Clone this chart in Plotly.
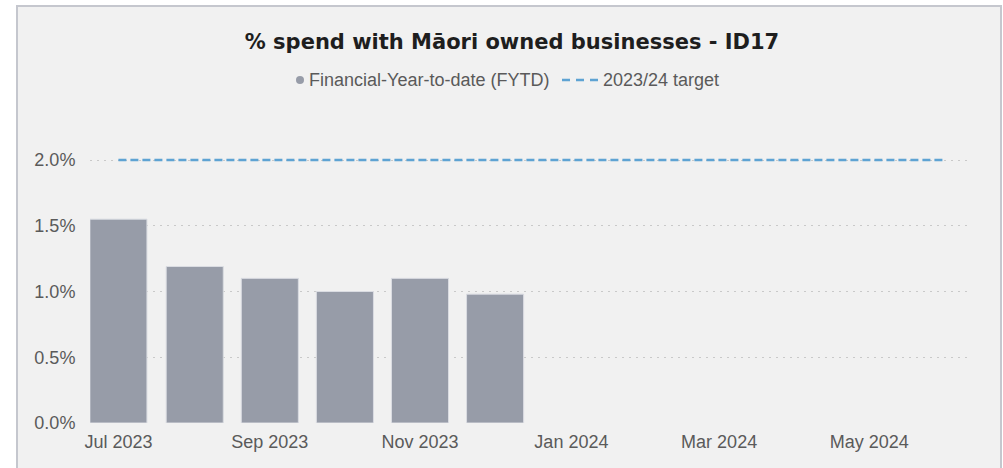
import pandas as pd
import plotly.graph_objects as go

# Monthly FYTD share of spend with Māori owned businesses (fractions)
months = ["2023-07", "2023-08", "2023-09", "2023-10", "2023-11", "2023-12"]
fytd = [0.0155, 0.0119, 0.0110, 0.0100, 0.0110, 0.0098]

# Financial year months for the target line
target_months = ["2023-07", "2023-08", "2023-09", "2023-10", "2023-11", "2023-12",
                 "2024-01", "2024-02", "2024-03", "2024-04", "2024-05", "2024-06"]
target = [0.02] * len(target_months)

# Tick labels every second month (placed at mid-month)
tick_months = ["2023-07", "2023-09", "2023-11", "2024-01", "2024-03", "2024-05"]
tick_labels = ["Jul 2023", "Sep 2023", "Nov 2023", "Jan 2024", "Mar 2024", "May 2024"]
y_ticks = [0, 0.005, 0.01, 0.015, 0.02]

series_names = ["Financial-Year-to-date (FYTD)", "2023/24 target"]

W, H = 1003, 468
ML, MR, MT, MB = 90, 34, 108, 45
plot_w = W - ML - MR
plot_h = H - MT - MB


def mid_month(m):
    start = pd.Timestamp(m + "-01")
    end = start + pd.offsets.MonthBegin(1)
    return start + (end - start) / 2


def px_to_paper_x(px):
    return (px - ML) / plot_w


def px_to_paper_y(py):
    return (H - MB - py) / plot_h


BAR_COLOR = "#979ca8"
TARGET_COLOR = "#5ea3d3"
FONT = "Liberation Sans"
TEXT_COLOR = "#5a5a5a"

fig = go.Figure()

fig.add_trace(go.Bar(
    x=[m + "-01" for m in months], y=fytd,
    xperiod="M1", xperiodalignment="middle",
    marker=dict(color=BAR_COLOR, line=dict(color="#dadce2", width=1)),
    name=series_names[0], showlegend=False,
))
fig.add_trace(go.Scatter(
    x=[m + "-01" for m in target_months], y=target,
    xperiod="M1", xperiodalignment="middle",
    mode="lines", line=dict(color=TARGET_COLOR, width=2.5, dash="8px,4px"),
    name=series_names[1], showlegend=False,
))

# Container box with light fill and grey border
fig.add_shape(
    type="rect", xref="paper", yref="paper", layer="below",
    x0=px_to_paper_x(17), x1=px_to_paper_x(1001),
    y0=px_to_paper_y(480), y1=px_to_paper_y(6),
    fillcolor="#f1f1f1", line=dict(color="#c5c7ce", width=2),
)

# Compact legend row under the title
LEG_Y = px_to_paper_y(80)
fig.add_shape(
    type="circle", xref="paper", yref="paper",
    x0=px_to_paper_x(296), x1=px_to_paper_x(304),
    y0=px_to_paper_y(84), y1=px_to_paper_y(76),
    fillcolor=BAR_COLOR, line=dict(width=0),
)
fig.add_annotation(
    x=px_to_paper_x(307), y=LEG_Y, xref="paper", yref="paper",
    xanchor="left", yanchor="middle", showarrow=False,
    text=series_names[0], font=dict(family=FONT, size=18, color=TEXT_COLOR),
)
fig.add_shape(
    type="line", xref="paper", yref="paper",
    x0=px_to_paper_x(562), x1=px_to_paper_x(598), y0=LEG_Y, y1=LEG_Y,
    line=dict(color=TARGET_COLOR, width=2.5, dash="8px,6px"),
)
fig.add_annotation(
    x=px_to_paper_x(601), y=LEG_Y, xref="paper", yref="paper",
    xanchor="left", yanchor="middle", showarrow=False,
    text=series_names[1], font=dict(family=FONT, size=18, color=TEXT_COLOR),
)

fig.update_layout(
    width=W, height=H,
    margin=dict(l=ML, r=MR, t=MT, b=MB),
    paper_bgcolor="white", plot_bgcolor="rgba(0,0,0,0)",
    bargap=0.24, showlegend=False,
    title=dict(
        text="<b>% spend with Māori owned businesses - ID17</b>",
        x=512 / W, xref="container", xanchor="center",
        y=1 - 42 / H, yref="container", yanchor="middle",
        font=dict(family="DejaVu Sans", size=21, color="#1e1e1e"),
    ),
    font=dict(family=FONT, size=18, color=TEXT_COLOR),
    xaxis=dict(
        type="date",
        range=["2023-07-04 23:00", "2024-06-26"],
        tickvals=[mid_month(m) for m in tick_months],
        ticktext=tick_labels,
        ticks="outside", ticklen=2, tickcolor="rgba(0,0,0,0)",
        showgrid=False, showline=False, zeroline=False,
        tickfont=dict(family=FONT, size=18, color=TEXT_COLOR),
    ),
    yaxis=dict(
        range=[0, plot_h / 131.5 / 100],
        tickvals=y_ticks, tickformat=".1%",
        ticks="outside", ticklen=10, tickcolor="rgba(0,0,0,0)",
        showgrid=True, gridcolor="#c9c9c9", gridwidth=1.2, griddash="1.5px,5.5px",
        zeroline=False, showline=False,
        tickfont=dict(family=FONT, size=18, color=TEXT_COLOR),
    ),
)

fig.write_html("out.html")
